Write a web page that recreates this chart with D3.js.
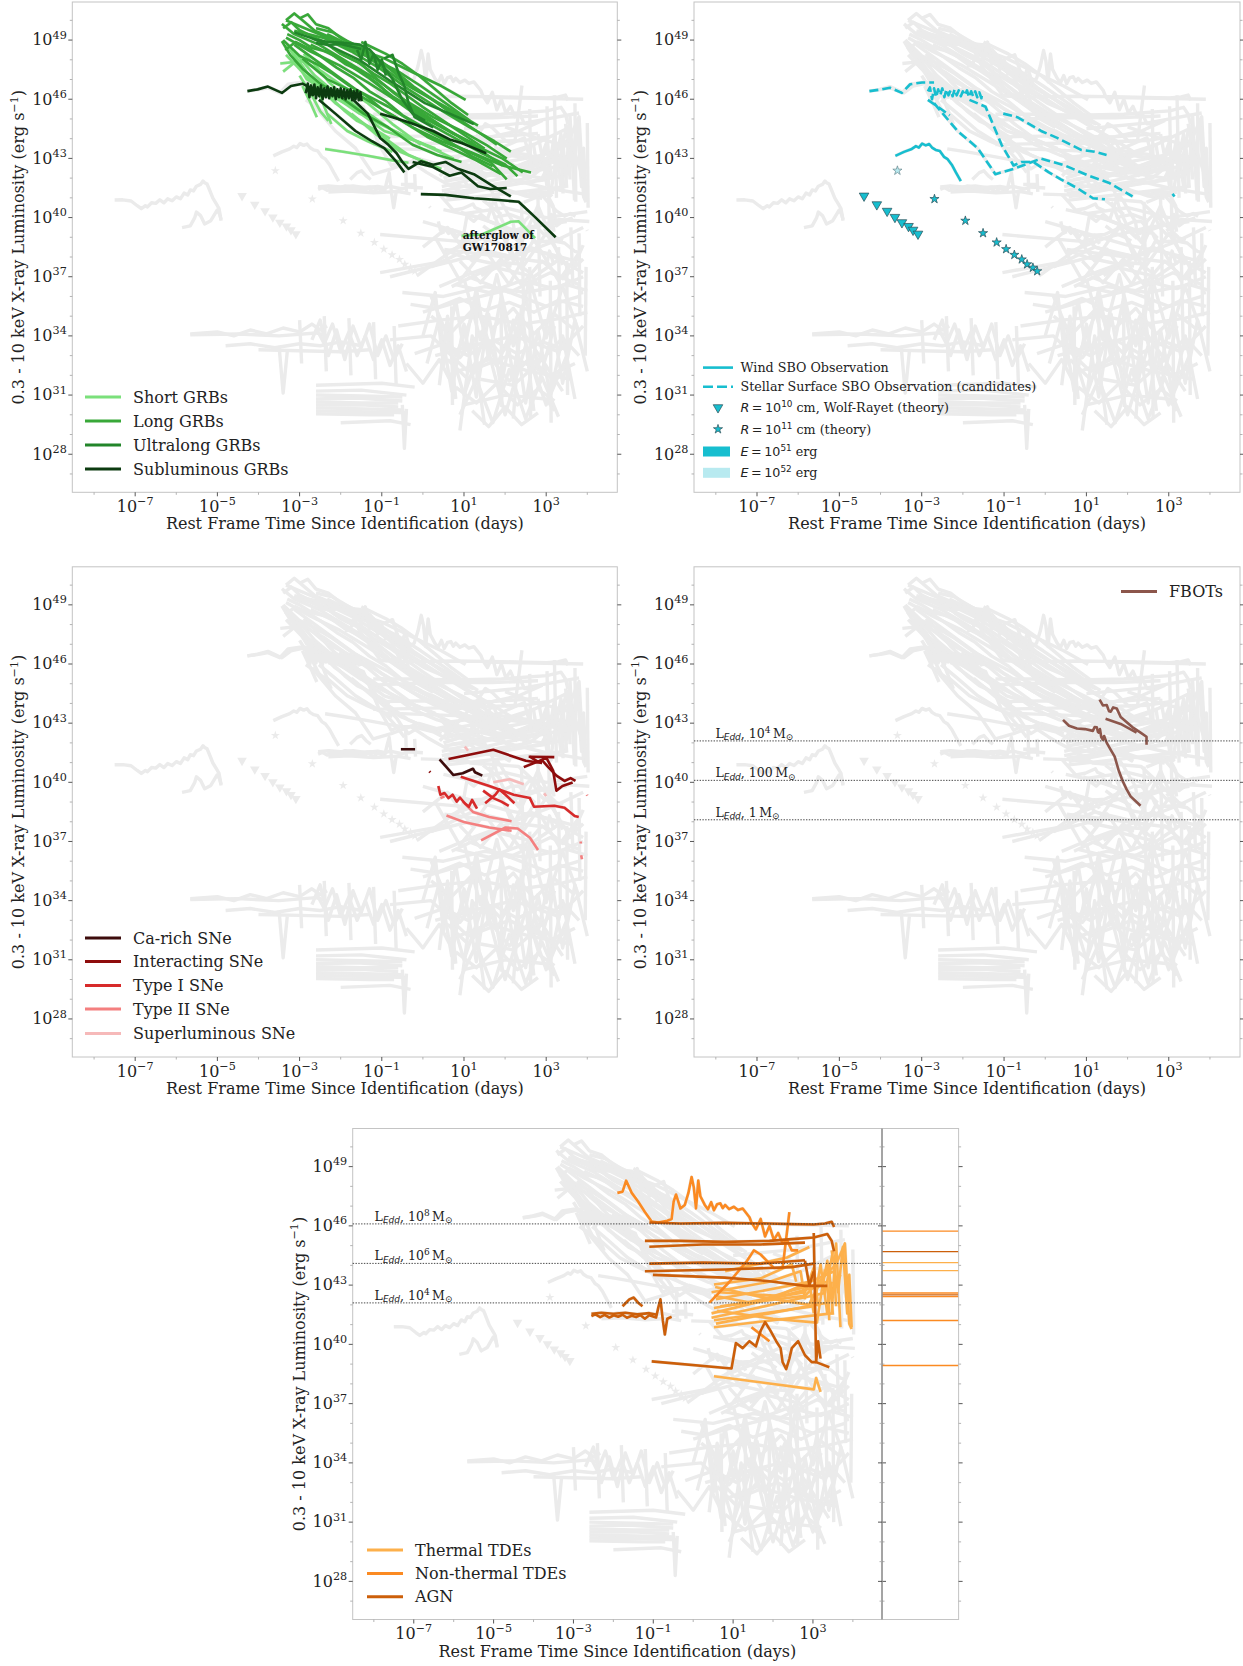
<!DOCTYPE html>
<html>
<head>
<meta charset="utf-8">
<script src="https://cdn.jsdelivr.net/npm/d3@7"></script>
<style>
body { margin: 0; background: #fff; }
svg { display: block; font-family: "DejaVu Serif", serif; }
</style>
</head>
<body>
<svg id="chart" width="1243" height="1666"></svg>
<script>
// axes (log10 exponents)
const xLogRange = [-8.53, 4.73];
const yLogRange = [26.07, 50.93];
const xMajorExp = [-7, -5, -3, -1, 1, 3];
const xMinorExp = d3.range(-8, 5);
const yMajorExp = [28, 31, 34, 37, 40, 43, 46, 49];
const yMinorExp = d3.range(27, 51);

// every curve is a list of [log10 t (days), log10 L (erg/s)]
const shortGRBs = [
  [[-3.47,47.81],[-2.93,47.93],[-2.43,47.37],[-1.84,46.5],[-1.34,45.8],[-0.74,44.74],[-0.05,43.69]],
  [[-3.33,48.77],[-3.13,48.25],[-2.88,47.55],[-2.63,46.76],[-2.43,45.8],[-2.23,44.74]],
  [[-3.13,48.42],[-2.63,47.2],[-2.13,46.32],[-1.64,45.44],[-1.04,44.74],[-0.35,44.04],[0.45,43.34]],
  [[-2.73,47.02],[-2.13,45.8],[-1.54,44.92],[-0.94,44.04],[-0.35,43.17],[0.25,42.64]],
  [[-2.38,43.48],[-1.94,43.34],[-1.34,43.13],[-0.74,42.9],[-0.35,42.78]],
  [[-2.93,46.67],[-2.73,45.8],[-2.58,45.09]],
  [[-1.74,45.27],[-1.14,44.22],[-0.55,43.34],[0.05,42.82],[0.45,42.47]],
  [[-3.33,48.25],[-2.53,46.5],[-1.74,45.62],[-0.94,44.39],[-0.15,43.87],[0.75,42.99]],
  [[-3.23,48.6],[-3.03,47.72],[-2.83,47.02],[-2.43,46.5],[-2.03,45.97],[-1.54,45.27],[-1.14,44.92]],
  [[-2.33,45.27],[-1.84,44.39],[-1.34,43.87],[-0.74,43.34]],
  [[-3.4,47.4],[-3.1,47.9],[-2.8,47.3],[-2.5,46.7],[-2.2,46.0],[-1.9,45.4],[-1.6,44.9],[-1.2,44.5],[-0.8,44.0]],
  [[-3.0,47.2],[-2.7,46.2],[-2.5,45.4],[-2.3,44.9]],
  [[-2.9,48.3],[-2.6,47.7],[-2.3,46.9],[-2.0,46.3],[-1.6,45.6],[-1.2,45.1],[-0.8,44.5],[-0.3,44.0],[0.3,43.5]],
  [[0.94,39.07],[1.44,39.14],[2.14,39.79],[2.33,39.81],[2.73,38.96]]
];
const longGRBs = [
  [[-3.33,50.0],[-3.13,50.35],[-2.93,50.0],[-2.63,49.47],[-2.13,49.03],[-1.54,48.42],[-0.94,47.55],[-0.35,46.67],[0.25,45.97],[0.85,45.27],[1.34,44.66]],
  [[-3.43,49.82],[-3.13,49.3],[-2.53,48.77],[-1.84,47.9],[-1.14,47.02],[-0.45,45.97],[0.25,45.09],[0.94,44.39],[1.54,43.69],[2.04,42.99]],
  [[-3.33,49.12],[-2.73,48.42],[-2.03,47.72],[-1.34,46.85],[-0.55,45.8],[0.15,44.92],[0.85,44.13],[1.44,43.34],[1.94,42.64]],
  [[-3.13,49.47],[-2.43,49.12],[-1.74,48.42],[-1.04,47.55],[-0.35,46.5],[0.45,45.44],[1.14,44.57],[1.74,43.87],[2.14,43.34]],
  [[-2.73,48.77],[-2.03,48.07],[-1.34,47.11],[-0.74,46.15],[-0.05,45.27],[0.65,44.39],[1.24,43.69],[1.94,42.99],[2.43,42.29]],
  [[-3.43,48.95],[-3.23,48.25],[-2.93,47.55],[-2.53,46.85],[-2.03,46.15],[-1.44,45.27],[-0.84,44.57],[-0.25,43.69],[0.35,43.17],[0.94,42.82]],
  [[-2.93,48.07],[-2.33,47.02],[-1.64,46.32],[-0.94,45.44],[-0.25,44.57],[0.45,43.87],[1.14,43.34],[1.94,42.64],[2.63,42.29]],
  [[-2.33,49.3],[-1.64,48.6],[-0.94,48.07],[-0.25,47.37],[0.45,46.67],[1.04,45.97]],
  [[-3.13,48.77],[-2.33,47.55],[-1.64,46.5],[-0.84,45.62],[-0.05,44.57],[0.75,43.69],[1.64,42.82],[2.04,41.94]],
  [[-3.33,50.0],[-2.93,49.65],[-2.43,49.21],[-1.84,48.6],[-1.24,48.07],[-0.64,47.46],[-0.05,46.67],[0.55,45.8],[1.14,44.92]],
  [[-3.4,49.6],[-3.2,49.9],[-3.0,49.5],[-2.7,49.2],[-2.4,48.9],[-2.0,48.3],[-1.6,47.9],[-1.2,47.3],[-0.8,46.8],[-0.4,46.2],[0.0,45.6],[0.5,44.9],[1.0,44.2],[1.5,43.5]],
  [[-3.35,48.5],[-3.1,48.9],[-2.8,48.6],[-2.5,48.2],[-2.1,47.6],[-1.7,47.1],[-1.3,46.4],[-0.9,45.9],[-0.5,45.2],[0.0,44.6],[0.6,43.9],[1.2,43.1],[1.7,42.6]],
  [[-3.0,50.1],[-2.8,50.3],[-2.6,49.8],[-2.3,49.6],[-2.0,49.1],[-1.7,48.8],[-1.3,48.2],[-0.9,47.7],[-0.5,47.0],[0.0,46.3],[0.5,45.6],[1.0,45.0]],
  [[-2.6,49.6],[-2.2,49.4],[-1.8,48.9],[-1.4,48.5],[-1.0,47.9],[-0.6,47.3],[-0.2,46.6],[0.3,45.9],[0.8,45.1],[1.3,44.4],[1.8,43.7]],
  [[-3.4,49.0],[-3.0,48.2],[-2.6,47.8],[-2.2,47.3],[-1.8,46.7],[-1.4,46.2],[-1.0,45.5],[-0.5,44.9],[0.1,44.1],[0.7,43.5],[1.3,42.9],[1.9,42.2]],
  [[-2.2,48.6],[-1.9,48.2],[-1.5,47.8],[-1.1,47.0],[-0.7,46.3],[-0.3,45.7],[0.2,45.0],[0.7,44.3],[1.2,43.8],[1.6,43.1]],
  [[-3.3,49.3],[-3.0,49.0],[-2.7,48.6],[-2.3,48.4],[-1.9,47.8],[-1.5,47.4],[-1.1,46.8],[-0.7,46.0],[-0.3,45.4],[0.2,44.7],[0.8,44.0],[1.4,43.3],[2.0,42.7],[2.3,42.1]],
  [[-1.5,48.9],[-1.2,48.6],[-0.9,48.3],[-0.5,47.8],[-0.1,47.2],[0.3,46.5],[0.7,45.8],[1.1,45.2]]
];
const ultralongGRBs = [
  [[-2.63,49.03],[-2.33,48.91],[-1.94,48.86],[-1.54,48.77],[-1.29,48.51],[-1.04,47.9],[-0.74,47.02],[-0.5,45.97],[-0.25,45.27],[0.05,44.92]],
  [[-2.6,48.85],[-2.3,48.75],[-2.0,48.8],[-1.7,48.65],[-1.5,48.55]],
  [[-3.13,49.39],[-2.73,49.12],[-2.33,48.77],[-1.54,47.98],[-0.74,46.85],[0.05,45.8],[0.65,45.27],[1.24,44.74]],
  [[-0.94,48.07],[-0.74,48.25],[-0.6,47.37],[-0.45,46.67],[-0.35,45.8],[-0.2,45.09],[0.25,44.57]],
  [[-1.6,48.5],[-1.5,48.0],[-1.4,48.9],[-1.3,47.8],[-1.2,48.3],[-1.1,47.5],[-1.0,48.0],[-0.9,47.2]]
];
const sublumGRBs = [
  [[-4.27,46.41],[-4.02,46.5],[-3.77,46.64],[-3.43,46.32],[-3.21,46.67],[-2.93,46.79],[-2.73,46.58]],
  [[-2.85,46.3],[-2.8,46.8],[-2.76,46.1],[-2.72,46.7],[-2.68,46.2],[-2.64,46.75],[-2.6,46.05],[-2.56,46.6],[-2.52,46.15],[-2.48,46.7],[-2.44,46.0],[-2.4,46.55],[-2.36,46.1],[-2.32,46.65],[-2.28,46.05],[-2.24,46.55],[-2.2,46.15],[-2.16,46.6],[-2.12,46.0],[-2.08,46.5],[-2.04,46.1],[-2.0,46.55],[-1.96,46.05],[-1.92,46.5],[-1.88,46.0],[-1.84,46.45],[-1.8,46.05],[-1.76,46.5],[-1.72,45.95],[-1.68,46.4],[-1.64,46.0],[-1.6,46.45],[-1.56,45.95],[-1.52,46.35],[-1.49,45.9]],
  [[-2.78,46.23],[-2.43,46.32],[-2.03,46.29],[-1.64,46.23]],
  [[-2.53,45.97],[-2.13,45.27],[-1.64,44.39],[-1.24,43.87],[-0.94,43.52],[-0.64,42.82],[-0.45,42.29]],
  [[-1.74,46.06],[-1.34,45.27],[-1.04,44.04],[-0.84,43.69],[-0.64,43.26],[-0.5,42.82],[-0.35,42.47],[-0.05,42.85],[0.25,42.68],[0.55,42.82],[0.85,42.47],[1.24,42.2],[1.64,41.68],[2.14,41.07]],
  [[-0.05,41.19],[0.55,41.15],[1.24,40.98],[1.84,40.89],[2.33,40.8],[2.73,40.02],[3.23,39.0]],
  [[-1.04,45.27],[-0.74,45.09],[-0.35,44.83],[0.25,44.39],[0.65,43.96],[0.94,43.78],[1.14,43.61],[1.54,43.26]],
  [[-0.25,42.82],[0.25,42.56],[0.65,42.12],[0.94,42.29],[1.34,41.59],[1.64,41.45],[2.04,41.5]]
];
const windSBO = [
  [[-3.64,43.13],[-3.43,43.33],[-3.24,43.48],[-3.14,43.62],[-3.07,43.55],[-2.99,43.75],[-2.9,43.66],[-2.82,43.73],[-2.75,43.55],[-2.66,43.43],[-2.56,43.38],[-2.46,43.08],[-2.37,42.96],[-2.27,42.68],[-2.17,42.29],[-2.05,41.85]]
];
const surfaceSBO = [
  [[-4.27,46.41],[-3.96,46.5],[-3.77,46.58],[-3.48,46.32],[-3.28,46.76],[-2.99,46.85],[-2.7,46.85]],
  [[-2.85,46.4],[-2.8,46.6],[-2.75,46.0],[-2.7,46.55],[-2.65,46.1],[-2.6,46.5],[-2.55,46.2],[-2.5,46.55],[-2.45,46.1],[-2.4,46.5],[-2.35,46.2],[-2.3,46.45],[-2.25,46.15],[-2.2,46.5],[-2.15,46.2],[-2.1,46.45],[-2.05,46.15],[-2.0,46.4],[-1.95,46.2],[-1.9,46.45],[-1.85,46.1],[-1.8,46.4],[-1.75,46.15],[-1.7,46.4],[-1.65,46.1],[-1.6,46.35],[-1.55,46.05],[-1.53,46.3]],
  [[-2.85,45.97],[-2.61,45.62],[-2.32,45.18]],
  [[-1.84,45.97],[-1.45,45.62],[-1.06,43.69],[-0.77,42.64],[-0.58,42.82],[-0.29,42.82],[0.09,42.29],[0.38,41.94],[0.77,41.5],[1.16,40.98],[1.45,40.93]],
  [[-2.7,45.8],[-2.13,44.39],[-1.64,43.52],[-1.21,42.2],[-0.77,42.47],[-0.1,42.99],[0.48,42.64],[1.06,42.12],[1.54,41.77],[2.12,41.07]],
  [[-1.02,45.27],[-0.68,45.09],[-0.1,44.39],[0.29,44.04],[0.87,43.43],[1.2,43.34],[1.49,43.17]],
  [[3.09,41.2],[3.14,41.07]]
];
const wolfRayetTheory = [[-4.4,41.1],[-4.09,40.66],[-3.84,40.33],[-3.65,40.02],[-3.48,39.75],[-3.32,39.56],[-3.21,39.37],[-3.09,39.17]];
const r11Theory = [[-2.69,40.94],[-1.94,39.84],[-1.51,39.21],[-1.18,38.74],[-0.95,38.4],[-0.75,38.11],[-0.57,37.88],[-0.44,37.63],[-0.3,37.46],[-0.195,37.28]];
const r11TheoryHighE = [[-3.59,42.38]];

const caRichSNe = [
  [[-0.535,41.68],[-0.19,41.68]],
  [[0.406,41.16],[0.574,40.77],[0.743,40.37],[0.97,40.46],[1.218,40.69],[1.267,40.51],[1.446,40.34]]
];
const interactingSNe = [
  [[0.624,41.18],[1.713,41.65],[2.505,41.09],[2.901,40.98]],
  [[2.574,41.3],[3.198,41.28]],
  [[2.455,40.77],[2.703,40.98],[2.901,41.12],[3.05,40.77],[3.248,40.34],[3.446,40.07],[3.594,40.21],[3.713,40.07]],
  [[2.604,41.3],[2.802,41.04],[3.0,41.26],[3.168,40.6],[3.248,39.58],[3.396,39.81],[3.644,39.99]],
  [[0.158,40.55],[0.18,40.5]]
];
const typeISNe = [
  [[0.921,40.28],[1.614,39.81],[2.208,39.37],[2.604,39.2],[2.703,38.76],[3.198,38.81],[3.446,38.71],[3.693,38.29],[3.792,38.24]],
  [[0.376,39.81],[0.426,39.37],[0.525,39.46],[0.624,39.2],[0.723,39.37],[0.822,39.02],[0.901,39.23],[1.02,38.94],[1.119,38.76],[1.198,39.11],[1.267,38.85],[1.317,38.67]],
  [[1.465,39.58],[1.713,39.2],[1.911,39.02],[2.089,38.81]],
  [[1.515,38.94],[1.762,39.37],[1.861,39.64],[2.01,39.37],[2.228,38.94]]
];
const typeIISNe = [
  [[0.574,38.32],[1.02,37.97],[1.614,37.71],[2.158,37.54]],
  [[1.416,37.06],[2.01,37.71],[2.307,37.66],[2.604,37.19],[2.802,36.57]],
  [[0.97,39.02],[1.218,38.5],[1.614,38.24],[2.158,38.03]],
  [[3.84,37.0],[3.84,36.9]],
  [[3.85,36.3],[3.87,36.1]],
  [[3.99,39.37],[4.0,39.33]],
  [[0.426,39.2],[0.525,39.29]]
];
const slSNe = [
  [[1.713,40.0],[2.109,40.16],[2.455,39.9]],
  [[1.02,41.82],[1.099,41.6]],
  [[2.95,39.45],[3.0,39.3]]
];
const fbots = [
  [[0.432,43.17],[0.577,42.87],[0.77,42.73],[0.963,42.7],[1.156,42.61],[1.2,42.8],[1.253,42.79],[1.28,42.55],[1.301,42.52],[1.33,42.7],[1.36,42.3],[1.398,42.17],[1.43,42.35],[1.494,42.0],[1.591,41.65],[1.687,41.3],[1.784,40.6],[1.88,40.07],[1.977,39.64],[2.073,39.29],[2.315,38.81]],
  [[1.32,44.19],[1.4,43.9],[1.494,43.92],[1.55,43.6],[1.591,43.58],[1.65,43.8],[1.736,43.75],[1.832,43.31],[2.121,42.79],[2.315,42.52],[2.46,42.31],[2.46,41.91]],
  [[1.465,43.22],[1.832,42.96],[2.218,42.52]]
];
const thermalTDEs = [
  [[0.52,40.87],[3.47,41.57],[3.58,45.11],[3.69,40.87]],
  [[0.52,41.22],[3.02,41.93],[3.19,44.05],[3.36,41.57],[3.47,43.17]],
  [[0.46,41.57],[1.91,42.28],[3.245,42.99],[3.36,44.23],[3.47,42.28]],
  [[0.52,41.84],[2.8,42.64],[3.02,43.87],[3.13,41.93]],
  [[0.57,42.28],[2.47,42.99],[2.91,43.17],[3.02,41.57]],
  [[0.46,42.64],[1.91,43.17],[2.69,43.7],[2.8,42.28]],
  [[0.52,43.03],[1.69,43.34],[2.47,44.05],[2.58,43.17]],
  [[0.68,41.93],[2.8,42.46],[3.58,44.05],[3.8,45.11],[3.91,41.05],[3.97,40.78]],
  [[3.47,44.76],[3.63,42.64],[3.75,44.93],[3.86,41.57],[3.91,43.52],[3.97,40.87]],
  [[0.52,38.39],[3.02,37.72],[3.08,38.3],[3.19,37.6]],
  [[0.8,43.7],[2.35,44.4],[2.91,44.93]],
  [[0.57,41.05],[1.91,41.57],[3.36,42.11],[3.69,43.52]],
  [[0.63,42.64],[2.13,42.46],[3.53,43.7],[3.58,41.93]],
  [[0.52,42.46],[1.46,42.11],[2.47,42.73],[3.36,43.17],[3.41,41.22]],
  [[0.46,41.35],[1.5,41.8],[2.6,42.3],[3.3,42.6],[3.5,44.7]],
  [[0.55,42.9],[1.7,42.4],[2.9,42.0],[3.4,44.0],[3.5,41.5]],
  [[0.6,41.7],[2.0,41.3],[3.1,41.1],[3.3,43.8]]
];
const nonThermalTDEs = [
  [[-1.9,47.67],[-1.77,47.73],[-1.68,48.29],[-1.54,47.67],[-1.38,47.23],[-1.21,46.7],[-1.04,46.22],[-0.875,46.17],[-0.65,46.26],[-0.54,46.35],[-0.49,47.23],[-0.43,47.59],[-0.32,46.88],[-0.21,47.06],[-0.12,47.67],[-0.04,48.47],[0.016,47.94],[0.07,46.88],[0.127,48.29],[0.18,47.5],[0.29,47.06],[0.37,46.84],[0.45,47.2],[0.52,46.79],[0.6,47.1],[0.68,47.14],[0.74,46.9],[0.8,47.06],[0.9,46.85],[1.02,46.97],[1.12,46.8],[1.24,46.88],[1.41,46.44],[1.46,46.17],[1.57,45.82],[1.69,46.35],[1.8,45.46],[1.91,46.0],[2.02,45.29],[2.13,45.64],[2.24,45.11],[2.35,45.29],[2.47,44.76],[2.63,44.76]],
  [[0.41,42.11],[0.91,43.17],[1.35,44.23],[1.52,44.76],[1.69,44.55],[2.02,43.87],[2.24,43.87],[2.41,46.7]],
  [[1.46,40.87],[1.63,40.6],[1.91,40.16]]
];
const agn = [
  [[-1.1,46.17],[-0.32,46.12],[0.795,46.15],[1.91,46.12],[2.47,46.09],[3.02,46.07],[3.3,46.12],[3.47,46.21],[3.53,45.94]],
  [[-1.21,45.24],[-0.32,45.24],[0.795,45.19],[1.91,45.24],[2.47,45.33],[3.02,45.41],[3.36,45.59],[3.47,45.24],[3.53,44.71]],
  [[-1.1,44.94],[0.24,45.06],[1.69,45.06],[2.8,45.15]],
  [[-1.1,44.09],[0.24,44.14],[1.69,44.09],[2.8,44.26]],
  [[-1.21,43.7],[0.795,43.79],[2.47,43.91],[3.02,44.09]],
  [[-1.01,43.52],[0.795,43.38],[1.91,43.2],[2.8,42.96],[3.36,42.96]],
  [[-2.55,41.43],[-2.45,41.52],[-2.33,41.38],[-2.22,41.49],[-2.1,41.36],[-1.99,41.47],[-1.88,41.4],[-1.77,41.5],[-1.66,41.35],[-1.54,41.45],[-1.43,41.38],[-1.32,41.48],[-1.21,41.3],[-1.1,41.47],[-0.93,41.36],[-0.87,41.9],[-0.82,42.28],[-0.76,41.2],[-0.71,40.5],[-0.65,41.3],[-0.54,41.4]],
  [[-2.55,41.55],[-2.3,41.6],[-2.0,41.55],[-1.7,41.6],[-1.4,41.52],[-1.1,41.58],[-0.9,41.5]],
  [[-1.77,41.93],[-1.6,42.28],[-1.49,42.37],[-1.38,42.11],[-1.27,41.93]],
  [[-1.04,39.14],[0.96,38.78],[1.07,40.07],[1.24,39.81],[1.41,40.16],[1.57,39.9],[1.69,40.69],[1.8,41.13],[1.91,40.78],[2.08,40.16],[2.19,39.81],[2.24,39.1],[2.33,38.75],[2.41,39.28],[2.47,39.81],[2.63,40.16],[2.8,39.45],[2.97,39.1],[3.08,39.1],[3.41,38.84]],
  [[3.02,45.64],[3.08,39.1],[3.13,40.16],[3.19,39.28]],
  [[2.8,44.23],[2.91,42.99],[3.02,43.7]]
];
// transients that only ever appear as grey background
const otherTransients = [
  [[-7.5,40.89],[-7.3,40.9],[-7.1,40.84],[-6.95,40.6],[-6.85,40.45],[-6.75,40.6],[-6.7,40.54],[-6.6,40.75],[-6.5,40.72],[-6.4,40.9],[-6.3,40.75],[-6.21,40.95],[-6.1,40.85],[-6.0,41.05],[-5.9,40.95],[-5.81,41.24],[-5.72,41.15],[-5.66,41.4],[-5.58,41.35],[-5.51,41.59],[-5.41,41.68],[-5.35,41.85],[-5.31,41.77],[-5.25,41.7],[-5.21,41.5],[-5.11,40.98],[-5.0,40.6],[-4.96,40.45],[-4.93,40.1],[-4.91,39.84]],
  [[-5.86,39.49],[-5.66,39.58],[-5.55,40.0],[-5.51,40.28],[-5.41,40.1],[-5.31,39.67],[-5.16,39.84],[-5.01,40.37],[-4.95,40.19],[-4.91,39.9]],
  [[-2.33,41.59],[-2.1,41.45],[-1.9,41.6],[-1.6,41.5],[-1.3,41.55],[-1.0,41.45],[-0.8,41.58],[-0.5,41.45],[-0.35,41.55],[0.0,41.5]],
  [[-2.3,41.3],[-1.8,41.35],[-1.2,41.25],[-0.6,41.32],[-0.3,41.2]],
  [[-0.42,42.7],[-0.4,41.2]],
  [[-0.2,42.2],[-0.18,41.3]],
  [[-1.04,37.21],[0.4,37.74]],
  [[-0.8,37.0],[1.5,38.2]],
  [[-5.66,34.06],[-4.5,34.1],[-3.5,34.0],[-2.6,34.15],[-2.33,34.0]],
  [[-5.66,34.1],[-5.0,34.2],[-4.6,34.0],[-4.2,34.3],[-3.8,34.1],[-3.4,34.4],[-3.0,34.2],[-2.7,34.6],[-2.5,34.3],[-2.33,34.5]],
  [[-4.8,33.5],[-4.2,33.6],[-3.6,33.4],[-3.0,33.6],[-2.5,33.5],[-2.0,33.7],[-1.5,33.5]],
  [[-4.0,33.3],[-3.0,33.25],[-2.0,33.2],[-1.3,33.3]],
  [[-3.5,33.5],[-3.4,31.1],[-3.3,33.2]],
  [[-3.0,34.8],[-2.95,32.6]],
  [[-2.4,35.0],[-2.35,32.2]],
  [[-1.8,34.9],[-1.75,32.0]],
  [[-1.2,34.7],[-1.15,31.8]],
  [[-0.7,34.5],[-0.65,31.5]],
  [[-2.6,34.4],[-2.4,33.6],[-2.2,34.6],[-2.0,33.2],[-1.8,34.2],[-1.6,33.0],[-1.4,34.0],[-1.2,32.8],[-1.0,33.8],[-0.8,32.5],[-0.6,33.5],[-0.4,32.2]],
  [[-2.7,33.8],[-2.5,34.8],[-2.3,33.0],[-2.1,34.3],[-1.9,32.8],[-1.7,34.5],[-1.5,33.4],[-1.3,34.6],[-1.1,33.0],[-0.9,34.0],[-0.7,32.8],[-0.5,33.6]],
  [[-2.6,31.2],[-1.5,31.25],[-0.4,31.0]],
  [[-2.6,31.0],[-1.5,30.95],[-0.5,30.9]],
  [[-2.6,30.8],[-1.6,30.85],[-0.5,30.7]],
  [[-2.6,30.65],[-1.5,30.6],[-0.6,30.6]],
  [[-2.6,30.5],[-1.4,30.5],[-0.6,30.4]],
  [[-2.6,30.35],[-1.4,30.3],[-0.5,30.25]],
  [[-2.6,30.2],[-1.2,30.15],[-0.4,30.1]],
  [[-2.6,30.05],[-1.3,30.0],[-0.7,30.0]],
  [[-2.6,31.5],[-1.0,31.6],[-0.2,31.4]],
  [[-2.0,29.6],[-0.8,29.7],[-0.3,29.5]],
  [[-0.5,30.5],[-0.45,28.3],[-0.4,30.3]],
  [[0.2,36.0],[0.8,33.0],[1.3,35.5],[1.8,32.5],[2.3,35.0],[2.8,31.5],[3.2,34.5]],
  [[0.5,34.5],[1.0,31.0],[1.5,34.0],[2.0,30.0],[2.5,33.5],[3.0,30.5],[3.5,33.0]],
  [[0.0,35.2],[1.0,35.8],[2.0,36.3],[3.0,35.5],[3.8,36.0]],
  [[0.3,33.0],[1.2,33.5],[2.2,34.0],[3.3,33.2],[3.9,34.5]],
  [[0.6,32.0],[1.6,32.8],[2.6,32.2],[3.6,31.8]],
  [[1.0,30.5],[2.0,31.0],[3.0,30.8],[3.2,30.2]],
  [[2.6,37.5],[2.62,29.8]],
  [[3.1,36.8],[3.12,29.6]],
  [[1.9,36.5],[1.92,30.4]],
  [[3.97,37.5],[3.95,33.0]],
  [[-0.6,34.5],[0.4,34.8],[1.4,35.0],[2.4,34.6],[3.4,34.9],[4.0,35.2]],
  [[-0.8,33.8],[0.2,34.0],[1.1,32.2],[2.1,33.0],[3.1,32.0],[3.7,32.6]],
  [[0.8,36.6],[1.6,36.2],[2.4,36.8],[3.2,36.4],[3.9,37.0]],
  [[1.4,31.8],[2.2,31.5],[2.9,32.8],[3.4,31.2]],
  [[0.9,29.2],[1.2,34.0],[1.5,29.5]],
  [[2.2,29.8],[2.4,35.5],[2.7,30.2]],
  [[0.4,31.5],[0.6,35.0],[0.8,30.8]],
  [[0.0,34.0],[0.3,36.2],[0.5,32.5],[0.8,35.8],[1.0,33.2],[1.3,36.4],[1.6,32.8],[1.9,35.9],[2.2,31.9],[2.5,36.1],[2.8,32.4],[3.1,35.4],[3.4,31.6],[3.7,34.8],[4.0,32.2]],
  [[0.1,32.6],[0.4,34.9],[0.7,31.2],[1.0,34.6],[1.3,30.9],[1.6,35.1],[1.9,31.4],[2.2,34.8],[2.5,30.6],[2.8,34.3],[3.1,31.0],[3.4,34.0],[3.7,30.8]],
  [[1.0,36.9],[1.4,33.8],[1.8,37.1],[2.2,33.5],[2.6,36.9],[3.0,33.9],[3.4,36.5],[3.8,34.2]],
  [[0.9,30.0],[1.3,31.8],[1.7,29.6],[2.1,32.3],[2.5,29.8],[2.9,31.9],[3.3,29.9]],
  [[-0.3,35.6],[0.3,35.4],[0.9,35.9],[1.5,35.3],[2.1,35.7],[2.7,35.2],[3.3,35.8],[3.9,35.5]],
  [[-0.2,33.1],[0.5,33.6],[1.1,33.0],[1.7,33.8],[2.3,33.1],[2.9,33.7],[3.5,33.3]],
  [[-0.5,36.2],[0.5,36.0],[1.5,36.5],[2.5,36.2],[3.5,36.6],[4.0,36.3]],
  [[0.2,35.0],[0.7,34.2],[1.2,35.3],[1.7,34.4],[2.2,35.4],[2.7,34.1],[3.2,35.1],[3.7,34.3]],
  [[0.4,33.8],[0.9,32.9],[1.4,34.2],[1.9,33.1],[2.4,34.3],[2.9,32.8],[3.4,33.9],[3.8,33.0]],
  [[0.6,32.8],[1.1,31.8],[1.6,33.0],[2.1,31.7],[2.6,32.9],[3.1,31.9],[3.5,32.5]],
  [[0.8,31.4],[1.3,30.6],[1.8,31.6],[2.3,30.5],[2.8,31.3],[3.2,30.7]],
  [[1.2,30.2],[1.6,29.4],[2.0,30.4],[2.4,29.5],[2.8,30.1]],
  [[-0.4,32.6],[0.0,31.6],[0.4,32.8],[0.8,31.2]],
  [[0.9,37.8],[1.4,36.7],[1.9,37.9],[2.4,36.6],[2.9,37.8],[3.4,36.9],[3.9,37.9]],
  [[3.3,38.5],[3.35,33.5]],
  [[3.5,37.8],[3.52,31.0]],
  [[3.8,39.2],[3.82,35.0]],
  [[1.3,36.0],[1.32,31.5]],
  [[0.7,35.5],[0.72,30.5]],
  [[0.5,38.2],[1.5,39.0],[2.5,39.5],[3.5,39.8]],
  [[0.2,37.5],[1.2,38.5],[2.2,38.0],[3.2,38.8],[3.9,39.5]],
  [[0.7,36.5],[1.7,37.5],[2.7,37.0],[3.4,38.0]],
  [[1.0,40.2],[2.0,40.5],[3.0,40.0],[4.0,40.3]],
  [[2.4,40.8],[2.45,35.5]],
  [[2.8,41.0],[2.85,36.0]],
  [[3.6,39.5],[3.65,36.5]],
  [[-0.15,37.04],[1.14,38.96]],
  [[0.0,39.8],[1.0,39.2],[2.0,38.6],[3.0,38.2],[3.7,37.8]],
  [[1.1,37.0],[2.1,36.2],[3.1,37.2],[3.8,36.6]],
  [[0.5,40.4],[1.4,40.0],[2.3,39.2],[3.3,39.9],[4.05,39.8]],
  [[0.0,38.5],[0.6,39.5],[1.2,37.8],[1.8,39.6],[2.4,37.4],[3.0,39.2],[3.6,37.2],[3.9,38.6]],
  [[0.3,39.0],[0.9,36.8],[1.5,38.4],[2.1,36.6],[2.7,38.9],[3.3,36.8],[3.8,38.2]],
  [[1.6,40.8],[2.2,37.8],[2.8,40.6],[3.4,37.6]],
  [[0.4,36.5],[1.2,37.2],[2.0,37.8],[2.6,38.5],[3.2,38.0],[3.9,37.2]],
  [[3.2,46.2],[3.25,41.0]],
  [[3.7,45.8],[3.72,40.8]],
  [[4.0,44.8],[4.02,40.5]],
  [[1.5,46.1],[3.9,46.0]],
  [[2.6,45.5],[2.62,42.5]],
  [[1.0,44.5],[2.5,44.8],[3.8,45.3]],
  [[0.5,42.0],[2.0,43.0],[3.5,44.5],[3.9,42.0]],
  [[1.2,41.5],[2.6,42.0],[3.3,43.2]],
  [[1.0,42.5],[2.0,42.0],[3.0,41.5],[3.9,41.2]],
  [[1.5,43.5],[2.5,43.2],[3.5,42.6]],
  [[2.0,44.6],[2.8,44.0],[3.6,43.6]]
];

// Eddington luminosities (log10 erg/s) and their labels
const eddPanel4 = [42.1, 40.1, 38.1];
const eddPanel4Mass = [["10", "4"], ["100", ""], ["1", ""]];
const eddPanel5 = [46.1, 44.1, 42.1];
const eddPanel5Mass = [["10", "8"], ["10", "6"], ["10", "4"]];

// peak luminosities in the side strip of the last panel
const sidePeakL = [45.73, 44.7, 44.14, 43.73, 42.6, 42.51, 42.42, 41.21, 38.93];
const sidePeakClass = ["nt", "agn", "th", "th", "nt", "agn", "nt", "nt", "nt"];

const grey = "#ebebeb";
const ink = "#222";
const tdeColors = { th: "#fdb04b", nt: "#fb8a22", agn: "#cc5f0a" };

const svg = d3.select("#chart");
const line = (x, y) => d3.line().x(p => x(10 ** p[0])).y(p => y(10 ** p[1]));

const allCurves = [shortGRBs, longGRBs, ultralongGRBs, sublumGRBs, windSBO, surfaceSBO,
  caRichSNe, interactingSNe, typeISNe, typeIISNe, slSNe, fbots,
  thermalTDEs, nonThermalTDEs, agn, otherTransients].flat(1);

function supText(sel, parts, fs) {
  // parts: [text, sup, text, sup ...]
  let up = false;
  parts.forEach((p, i) => {
    if (p === "") return;
    const t = sel.append("tspan").text(p);
    if (i % 2 === 1) {
      t.attr("font-size", fs * 0.7).attr("dy", -fs * 0.42);
      up = true;
    } else if (up) {
      t.attr("dy", fs * 0.42);
      up = false;
    }
  });
}

let clipId = 0;
function makePanel(box) {
  const x = d3.scaleLog().domain([10 ** xLogRange[0], 10 ** xLogRange[1]]).range([box.left, box.right]);
  const y = d3.scaleLog().domain([10 ** yLogRange[0], 10 ** yLogRange[1]]).range([box.bottom, box.top]);
  const g = svg.append("g");
  const id = "clip" + (clipId++);
  g.append("clipPath").attr("id", id).append("rect")
    .attr("x", box.left).attr("y", box.top)
    .attr("width", box.right - box.left).attr("height", box.bottom - box.top);
  const plot = g.append("g").attr("clip-path", `url(#${id})`);

  // grey background of every known transient
  plot.selectAll("path.bg").data(allCurves).join("path")
    .attr("d", line(x, y)).attr("fill", "none").attr("stroke", grey)
    .attr("stroke-width", 3.4).attr("stroke-linejoin", "round");
  drawMarkers(plot, x, y, wolfRayetTheory, "tri", grey, null);
  drawMarkers(plot, x, y, r11Theory.concat(r11TheoryHighE), "star", grey, null);

  // frame
  g.append("rect").attr("x", box.left).attr("y", box.top)
    .attr("width", box.right - box.left).attr("height", box.bottom - box.top)
    .attr("fill", "none").attr("stroke", "#c4c4c4").attr("stroke-width", 1);

  drawTicks(g, x, y, box, true);

  g.append("text").attr("x", (box.left + box.right) / 2).attr("y", box.bottom + 37)
    .attr("text-anchor", "middle").attr("font-size", 16).attr("fill", ink)
    .text("Rest Frame Time Since Identification (days)");
  const yl = g.append("text")
    .attr("transform", `translate(${box.left - 48},${(box.top + box.bottom) / 2}) rotate(-90)`)
    .attr("text-anchor", "middle").attr("font-size", 16).attr("fill", ink);
  supText(yl, ["0.3 - 10 keV X-ray Luminosity (erg s", "\u22121", ")"], 16);
  return { g, plot, x, y };
}

function drawTicks(g, x, y, box, labels) {
  const tk = g.append("g").attr("stroke-width", 0.9);
  yMinorExp.forEach(e => {
    const yy = y(10 ** e), major = yMajorExp.includes(e);
    const len = major ? 4 : 2.5, col = major ? "#444" : "#aaa";
    tk.append("line").attr("x1", box.left - len).attr("x2", box.left).attr("y1", yy).attr("y2", yy).attr("stroke", col);
    tk.append("line").attr("x1", box.right).attr("x2", box.right + len).attr("y1", yy).attr("y2", yy).attr("stroke", col);
    if (major && labels) {
      const t = g.append("text").attr("x", box.left - 5.5).attr("y", yy + 5.3)
        .attr("text-anchor", "end").attr("font-size", 16).attr("fill", ink);
      supText(t, ["10", String(e)], 16);
    }
  });
  if (!labels) return;
  xMinorExp.forEach(e => {
    const xx = x(10 ** e), major = xMajorExp.includes(e);
    const len = major ? 4 : 2.5, col = major ? "#444" : "#aaa";
    tk.append("line").attr("x1", xx).attr("x2", xx).attr("y1", box.bottom).attr("y2", box.bottom + len).attr("stroke", col);
    if (major) {
      const t = g.append("text").attr("x", xx).attr("y", box.bottom + 19.7)
        .attr("text-anchor", "middle").attr("font-size", 16).attr("fill", ink);
      supText(t, ["10", String(e).replace("-", "\u2212")], 16);
    }
  });
}

function drawMarkers(sel, x, y, pts, kind, fill, stroke) {
  const sym = kind === "tri" ? d3.symbol(d3.symbolTriangle, 40) : d3.symbol(d3.symbolStar, 26);
  sel.append("g").selectAll("path").data(pts).join("path")
    .attr("d", sym)
    .attr("transform", p => `translate(${x(10 ** p[0])},${y(10 ** p[1])})` + (kind === "tri" ? " rotate(180)" : ""))
    .attr("fill", fill).attr("stroke", stroke || "none").attr("stroke-width", 0.7);
}

function drawSeries(p, curves, color, width, dash) {
  p.plot.append("g").selectAll("path").data(curves).join("path")
    .attr("d", line(p.x, p.y)).attr("fill", "none").attr("stroke", color)
    .attr("stroke-width", width).attr("stroke-linejoin", "round")
    .attr("stroke-dasharray", dash || null);
}

function legendLines(g, x0, rows, items, fs) {
  items.forEach((it, i) => {
    const yy = rows[i];
    g.append("line").attr("x1", x0).attr("x2", x0 + 36).attr("y1", yy).attr("y2", yy)
      .attr("stroke", it.color).attr("stroke-width", 3);
    g.append("text").attr("x", x0 + 48).attr("y", yy + fs * 0.35).attr("font-size", fs)
      .attr("fill", ink).text(it.label);
  });
}

function eddLines(p, box, levels, masses, lx) {
  levels.forEach((L, i) => {
    const yy = p.y(10 ** L);
    p.g.append("line").attr("x1", box.left).attr("x2", box.right).attr("y1", yy).attr("y2", yy)
      .attr("stroke", "#333").attr("stroke-width", 0.9).attr("stroke-dasharray", "1.4,1.4");
    const t = p.g.append("text").attr("x", lx).attr("y", yy - 3).attr("font-size", 12.5).attr("fill", ink);
    t.append("tspan").text("L");
    t.append("tspan").attr("font-size", 9).attr("font-style", "italic").attr("font-family", "DejaVu Sans").attr("dy", 2.5).text("Edd");
    t.append("tspan").attr("dy", -2.5).text(", " + masses[i][0]);
    if (masses[i][1]) {
      t.append("tspan").attr("font-size", 9).attr("dy", -5).text(masses[i][1]);
      t.append("tspan").attr("dy", 5).text("\u2009M");
    } else {
      t.append("tspan").text("\u2009M");
    }
    t.append("tspan").attr("font-size", 9).attr("dy", 2.5).text("\u2299");
  });
}

const boxes = [
  { left: 72.3, right: 617.3, top: 2, bottom: 492.3 },
  { left: 694, right: 1240, top: 2, bottom: 492.3 },
  { left: 72.3, right: 617.3, top: 566.8, bottom: 1057 },
  { left: 694, right: 1240, top: 566.8, bottom: 1057 },
  { left: 352.7, right: 882, top: 1128.5, bottom: 1619.5 }
];

// --- panel 1: GRBs
const grbColors = ["#7be07b", "#38a838", "#22852a", "#0c3b10"];
const p1 = makePanel(boxes[0]);
drawSeries(p1, shortGRBs, grbColors[0], 2.6);
drawSeries(p1, longGRBs, grbColors[1], 2.6);
drawSeries(p1, ultralongGRBs, grbColors[2], 2.6);
drawSeries(p1, sublumGRBs, grbColors[3], 2.6);
const ag = p1.g.append("text").attr("font-size", 10.5).attr("font-weight", "bold").attr("fill", "#111");
ag.append("tspan").attr("x", p1.x(10 ** 0.97)).attr("y", p1.y(10 ** 38.9)).text("afterglow of");
ag.append("tspan").attr("x", p1.x(10 ** 0.97)).attr("dy", 12).text("GW170817");
legendLines(p1.g, 85, [397, 421, 445, 469], [
  { label: "Short GRBs", color: grbColors[0] },
  { label: "Long GRBs", color: grbColors[1] },
  { label: "Ultralong GRBs", color: grbColors[2] },
  { label: "Subluminous GRBs", color: grbColors[3] }
], 16);

// --- panel 2: shock breakouts
const cyan = "#17becf", cyanLight = "#b8eaf0";
const p2 = makePanel(boxes[1]);
drawSeries(p2, windSBO, cyan, 2.6);
drawSeries(p2, surfaceSBO, cyan, 2.6, "9,4");
drawMarkers(p2.plot, p2.x, p2.y, wolfRayetTheory, "tri", cyan, "#2d4f57");
drawMarkers(p2.plot, p2.x, p2.y, r11Theory, "star", cyan, "#2d4f57");
drawMarkers(p2.plot, p2.x, p2.y, r11TheoryHighE, "star", cyanLight, "#6a8a90");
{
  const lg = p2.g.append("g");
  const hx = 703, tx = 740.5, fs = 12.7;
  const rows = [367.6, 386.7, 407.5, 429.2, 451.5, 472.8];
  lg.append("line").attr("x1", hx).attr("x2", hx + 30).attr("y1", rows[0]).attr("y2", rows[0]).attr("stroke", cyan).attr("stroke-width", 2.6);
  lg.append("line").attr("x1", hx).attr("x2", hx + 30).attr("y1", rows[1]).attr("y2", rows[1]).attr("stroke", cyan).attr("stroke-width", 2.6).attr("stroke-dasharray", "10,4");
  lg.append("path").attr("d", d3.symbol(d3.symbolTriangle, 40)).attr("transform", `translate(${hx + 15},${rows[2]}) rotate(180)`).attr("fill", cyan).attr("stroke", "#2d4f57").attr("stroke-width", 0.7);
  lg.append("path").attr("d", d3.symbol(d3.symbolStar, 26)).attr("transform", `translate(${hx + 15},${rows[3]})`).attr("fill", cyan).attr("stroke", "#2d4f57").attr("stroke-width", 0.7);
  lg.append("rect").attr("x", hx).attr("y", rows[4] - 5).attr("width", 27).attr("height", 10).attr("fill", cyan);
  lg.append("rect").attr("x", hx).attr("y", rows[5] - 5).attr("width", 27).attr("height", 10).attr("fill", cyanLight);
  const txt = (i) => lg.append("text").attr("x", tx).attr("y", rows[i] + fs * 0.35).attr("font-size", fs).attr("fill", ink);
  txt(0).text("Wind SBO Observation");
  txt(1).text("Stellar Surface SBO Observation (candidates)");
  const math = (t, v, exp, rest) => {
    t.append("tspan").attr("font-family", "DejaVu Sans").attr("font-style", "italic").text(v);
    t.append("tspan").attr("font-family", "DejaVu Sans").text("\u2009=\u200910");
    t.append("tspan").attr("font-family", "DejaVu Sans").attr("font-size", fs * 0.7).attr("dy", -5).text(exp);
    t.append("tspan").attr("dy", 5).text(rest);
  };
  math(txt(2), "R", "10", " cm, Wolf-Rayet (theory)");
  math(txt(3), "R", "11", " cm (theory)");
  math(txt(4), "E", "51", " erg");
  math(txt(5), "E", "52", " erg");
}

// --- panel 3: supernovae
const sneColors = ["#3d0c0c", "#8e0c0c", "#d72a2a", "#f47f7f", "#f6b9b9"];
const p3 = makePanel(boxes[2]);
drawSeries(p3, slSNe, sneColors[4], 2.6);
drawSeries(p3, typeIISNe, sneColors[3], 2.6);
drawSeries(p3, typeISNe, sneColors[2], 2.6);
drawSeries(p3, interactingSNe, sneColors[1], 2.6);
drawSeries(p3, caRichSNe, sneColors[0], 2.6);
legendLines(p3.g, 85, [938, 961.5, 985.5, 1009, 1033.5], [
  { label: "Ca-rich SNe", color: sneColors[0] },
  { label: "Interacting SNe", color: sneColors[1] },
  { label: "Type I SNe", color: sneColors[2] },
  { label: "Type II SNe", color: sneColors[3] },
  { label: "Superluminous SNe", color: sneColors[4] }
], 16);

// --- panel 4: FBOTs
const brown = "#8c564b";
const p4 = makePanel(boxes[3]);
eddLines(p4, boxes[3], eddPanel4, eddPanel4Mass, 715.4);
drawSeries(p4, fbots, brown, 2.6);
legendLines(p4.g, 1121, [591.4], [{ label: "FBOTs", color: brown }], 16);

// --- panel 5: TDEs and AGN, with peak strip
const p5 = makePanel(boxes[4]);
eddLines(p5, boxes[4], eddPanel5, eddPanel5Mass, 374.6);
drawSeries(p5, thermalTDEs, tdeColors.th, 2.6);
drawSeries(p5, nonThermalTDEs, tdeColors.nt, 2.6);
drawSeries(p5, agn, tdeColors.agn, 2.6);
legendLines(p5.g, 367, [1550, 1573.4, 1596.8], [
  { label: "Thermal TDEs", color: tdeColors.th },
  { label: "Non-thermal TDEs", color: tdeColors.nt },
  { label: "AGN", color: tdeColors.agn }
], 16);
{
  const sb = { left: 882, right: 958.6, top: boxes[4].top, bottom: boxes[4].bottom };
  const sy = p5.y;
  const sg = svg.append("g");
  sg.selectAll("line.peak").data(sidePeakL).join("line")
    .attr("x1", sb.left).attr("x2", sb.right)
    .attr("y1", d => sy(10 ** d)).attr("y2", d => sy(10 ** d))
    .attr("stroke", (d, i) => tdeColors[sidePeakClass[i]]).attr("stroke-width", 1.3);
  sg.append("rect").attr("x", sb.left).attr("y", sb.top).attr("width", sb.right - sb.left).attr("height", sb.bottom - sb.top)
    .attr("fill", "none").attr("stroke", "#c4c4c4");
  sg.append("line").attr("x1", sb.left).attr("x2", sb.left).attr("y1", sb.top).attr("y2", sb.bottom).attr("stroke", "#777");
  drawTicks(sg, p5.x, sy, sb, false);
}
</script>
</body>
</html>
